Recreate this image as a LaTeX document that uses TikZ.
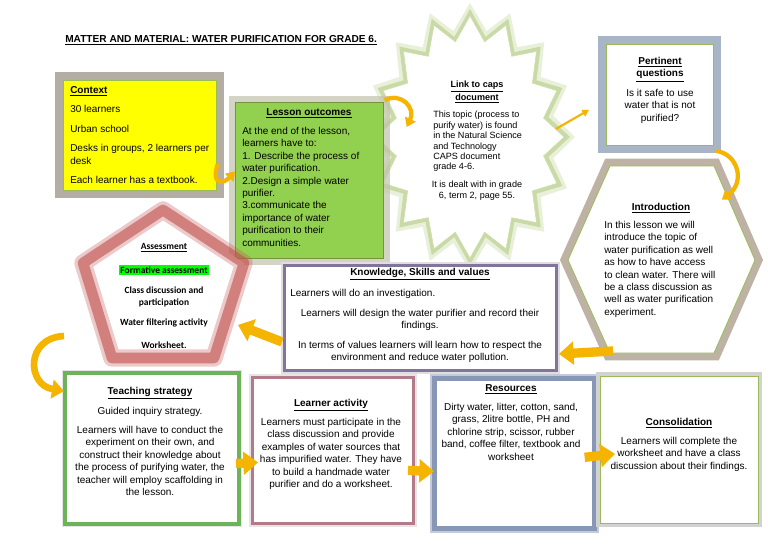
\documentclass[tikz,border=0pt]{standalone}
\usepackage{fontspec}
\setmainfont{Liberation Sans}
\newfontfamily\calib{Carlito}
\usetikzlibrary{shapes.geometric,arrows.meta,calc}
\definecolor{ctxyellow}{HTML}{FFFF00}
\definecolor{ctxglow}{HTML}{A89F95}
\definecolor{lessongreen}{HTML}{92D050}
\definecolor{lessonedge}{HTML}{77933C}
\definecolor{lessonglow}{HTML}{C2C2AE}
\definecolor{olive}{HTML}{9BBB59}
\definecolor{pertglow}{HTML}{9FADC0}
\definecolor{introglow}{HTML}{B2A595}
\definecolor{assessred}{HTML}{C0504D}
\definecolor{knowedge}{HTML}{837599}
\definecolor{teachedge}{HTML}{6CB35A}
\definecolor{learnedge}{HTML}{B57A8A}
\definecolor{resedge}{HTML}{8797B5}
\definecolor{arrowfill}{HTML}{F5B400}
\definecolor{hlgreen}{HTML}{00FF00}
\newcommand{\ttl}[1]{\textbf{\underline{#1}}}
\begin{document}
\begin{tikzpicture}[x=0.75pt,y=-0.75pt,
  fs/.style={font=\fontsize{7.5}{9.3}\selectfont},
  tx/.style={fs,inner sep=0pt,anchor=north,align=center},
  txl/.style={fs,inner sep=0pt,anchor=north west,align=left},
  sfs/.style={inner sep=0pt,font=\fontsize{6.8}{7.8}\selectfont},
  asl/.style={inner sep=0pt,font=\calib\bfseries\fontsize{7.1}{8.5}\selectfont},
  boxnode/.style={inner sep=0pt,anchor=north west},
  curvarrow/.style={draw=arrowfill,line width=3.2pt,-{Triangle[width=8.5pt,length=6.5pt]}},
  blockarrow/.style={draw=arrowfill,line width=7pt,-{Triangle[width=17pt,length=11pt]}},
]
\useasboundingbox (0,0) rectangle (768,543);
\fill[white] (0,0) rectangle (768,543);

% Title
\node[anchor=west,inner sep=0pt,font=\fontsize{7.6}{9}\selectfont\bfseries] (title) at (65,40) {\underline{MATTER AND MATERIAL: WATER PURIFICATION FOR GRADE 6.}};

% Star (link to caps)
\coordinate (sc) at (470,137);
\fill[olive,opacity=0.22] ($(sc)+(90:105 and 134)$)
  \foreach \a in {0,...,15}
    { -- ($(sc)+({101.25+\a*22.5}:85 and 108)$) -- ($(sc)+({112.5+\a*22.5}:105 and 134)$) } -- cycle;
\fill[olive,opacity=0.4] ($(sc)+(90:100 and 128)$)
  \foreach \a in {0,...,15}
    { -- ($(sc)+({101.25+\a*22.5}:80 and 102)$) -- ($(sc)+({112.5+\a*22.5}:100 and 128)$) } -- cycle;
\fill[white,draw=olive!50,line width=0.4pt] ($(sc)+(90:94 and 121)$)
  \foreach \a in {0,...,15}
    { -- ($(sc)+({101.25+\a*22.5}:75 and 97)$) -- ($(sc)+({112.5+\a*22.5}:94 and 121)$) } -- cycle;

% Context
\node[boxnode,fill=ctxyellow,draw=olive,line width=0.6pt,minimum width=153*0.75pt,minimum height=110*0.75pt,
  preaction={draw=ctxglow,line width=12pt,opacity=0.85}] (ctx) at (63,80) {};
\node[txl] (ctxt) at (70,86) {\ttl{Context}\\[5.3pt]30 learners\\[5.3pt]Urban school\\[5.3pt]Desks in groups, 2 learners per\\desk\\[5.3pt]Each learner has a textbook.};

% Lesson outcomes
\node[boxnode,fill=lessongreen,draw=lessonedge,line width=0.5pt,minimum width=148*0.75pt,minimum height=156*0.75pt,
  preaction={draw=lessonglow,line width=10pt,opacity=0.7}] (lesson) at (235,102) {};
\node[tx] (lessont) at (309,108) {\ttl{Lesson outcomes}};
\node[txl] (lessonb) at (242,127) {At the end of the lesson,\\learners have to:\\1. Describe the process of\\water purification.\\2.Design a simple water\\purifier.\\3.communicate the\\importance of water\\purification to their\\communities.};

% Star text
\node[sfs,anchor=north,align=center] (caps) at (477,81) {\ttl{Link to caps}\\\ttl{document}};
\node[sfs,anchor=north west,align=left] (capsb) at (433,111) {This topic (process to\\purify water) is found\\in the Natural Science\\and Technology\\CAPS document\\grade 4-6.};
\node[sfs,anchor=north,align=center] (capsc) at (477,181) {It is dealt with in grade\\6, term 2, page 55.};

% Pertinent questions
\node[boxnode,fill=white,draw=olive,line width=0.6pt,minimum width=107*0.75pt,minimum height=101*0.75pt,
  preaction={draw=pertglow,line width=12pt,opacity=0.9}] (pert) at (606,44) {};
\node[tx] (pertt) at (660,57) {\ttl{Pertinent}\\\ttl{questions}};
\node[tx] (pertb) at (660,89) {Is it safe to use\\water that is not\\purified?};

% Introduction hexagon
\coordinate (introbl) at (610,353);
\path[fill=white,draw=olive,line width=0.6pt,preaction={draw=introglow,line width=11pt,opacity=0.85}]
  (568,260) -- (610,166) -- (714,166) -- (755,260) -- (714,353) -- (introbl) -- cycle;
\node[tx] (introt) at (661,203) {\ttl{Introduction}};
\node[txl] (introb) at (604,221) {In this lesson we will\\introduce the topic of\\water purification as well\\as how to have access\\to clean water. There will\\be a class discussion as\\well as water purification\\experiment.};

% Assessment pentagon
\path[fill=white,draw=assessred,draw opacity=0.3,line width=13pt,line join=round]
  (163,210) -- (244,263) -- (214,358) -- (112,358) -- (83,263) -- cycle;
\path[draw=assessred,draw opacity=0.6,line width=8pt,line join=round]
  (163,210) -- (244,263) -- (214,358) -- (112,358) -- (83,263) -- cycle;
\node[asl] (as1) at (164,248) {\underline{Assessment}};
\node[asl,fill=hlgreen,inner xsep=1pt,inner ysep=1.2pt] (as2) at (164,270) {Formative assessment};
\node[asl] (as3) at (164,290) {Class discussion and};
\node[asl] (as4) at (164,303) {participation};
\node[asl] (as5) at (164,323) {Water filtering activity};
\node[asl] (as6) at (164,345) {Worksheet.};

% Knowledge box
\node[boxnode,fill=white,draw=knowedge,line width=2.2pt,minimum width=272*0.75pt,minimum height=105*0.75pt,
  preaction={draw=gray!25,line width=5pt}] (know) at (283,264) {};
\node[tx] (knowt) at (420,268) {\ttl{Knowledge, Skills and values}};
\node[txl] (knowa) at (290,289) {Learners will do an investigation.};
\node[tx] (knowb) at (420,309) {Learners will design the water purifier and record their\\findings.};
\node[tx] (knowc) at (420,341) {In terms of values learners will learn how to respect the\\environment and reduce water pollution.};

% Teaching strategy
\node[boxnode,fill=white,draw=teachedge,line width=3pt,minimum width=174*0.75pt,minimum height=151*0.75pt,
  preaction={draw=gray!20,line width=5pt}] (teach) at (63,371) {};
\node[tx] (teacht) at (150,387) {\ttl{Teaching strategy}};
\node[tx] (teachb) at (150,407) {Guided inquiry strategy.};
\node[tx] (teachc) at (150,426) {Learners will have to conduct the\\experiment on their own, and\\construct their knowledge about\\the process of purifying water, the\\teacher will employ scaffolding in\\the lesson.};

% Learner activity
\node[boxnode,fill=white,draw=learnedge,line width=2.2pt,minimum width=161*0.75pt,minimum height=146*0.75pt,
  preaction={draw=gray!20,line width=5pt}] (learn) at (251,376) {};
\node[tx] (learnt) at (331,399) {\ttl{Learner activity}};
\node[tx] (learnb) at (331,418) {Learners must participate in the\\class discussion and provide\\examples of water sources that\\has impurified water. They have\\to build a handmade water\\purifier and do a worksheet.};

% Resources
\node[boxnode,fill=white,draw=resedge,line width=3.5pt,minimum width=160*0.75pt,minimum height=150*0.75pt,
  preaction={draw=resedge!50,line width=7pt}] (res) at (432,376) {};
\node[tx] (rest) at (511,384) {\ttl{Resources}};
\node[tx] (resb) at (511,403) {Dirty water, litter, cotton, sand,\\grass, 2litre bottle, PH and\\chlorine strip, scissor, rubber\\band, coffee filter, textbook and\\worksheet};

% Consolidation
\node[boxnode,fill=white,draw=olive,line width=0.6pt,minimum width=158*0.75pt,minimum height=147*0.75pt,
  preaction={draw=gray!35,line width=6pt}] (cons) at (600,376) {};
\node[tx] (const) at (679,418) {\ttl{Consolidation}};
\node[tx] (consb) at (679,437) {Learners will complete the\\worksheet and have a class\\discussion about their findings.};

% Arrows
\draw[curvarrow] ($(ctx.south east)+(1,-27)$) .. controls ($(ctx.south east)+(-6,-6)$) and ($(ctx.south east)+(6,-6)$) .. ($(lesson.west)+(0,-9)$);
\draw[curvarrow] ($(lesson.north east)+(1,-2)$) .. controls ($(lesson.north east)+(18,-10)$) and ($(lesson.north east)+(32,6)$) .. ($(lesson.north east)+(23,25)$);
\draw[draw=arrowfill,line width=1.6pt,-{Triangle[width=5.5pt,length=5pt]}] ($(pert.west)+(-50,34)$) -- ($(pert.west)+(-17,15)$);
\draw[curvarrow] ($(pert.south east)+(2,5)$) .. controls ($(pert.south east)+(24,8)$) and ($(pert.south east)+(32,36)$) .. ($(pert.south east)+(8,54)$);
\draw[blockarrow] ($(introbl)+(3,-2)$) -- ($(know.east)+(1,36)$);
\draw[blockarrow] ($(know.south west)+(-1,-30)$) -- ($(know.south west)+(-45,-47)$);
\draw[draw=arrowfill,line width=5pt,-{Triangle[width=14pt,length=9pt]}] ($(teach.north west)+(1,-35)$) .. controls ($(teach.north west)+(-38,-33)$) and ($(teach.north west)+(-36,14)$) .. ($(teach.north west)+(1,20)$);
\draw[blockarrow] ($(teach.east)+(-5,15)$) -- ($(learn.west)+(7,12)$);
\draw[blockarrow] ($(learn.east)+(-7,20)$) -- ($(res.west)+(2,18)$);
\draw[blockarrow] ($(res.east)+(-12,4)$) -- ($(cons.west)+(15,4)$);
\end{tikzpicture}
\end{document}
